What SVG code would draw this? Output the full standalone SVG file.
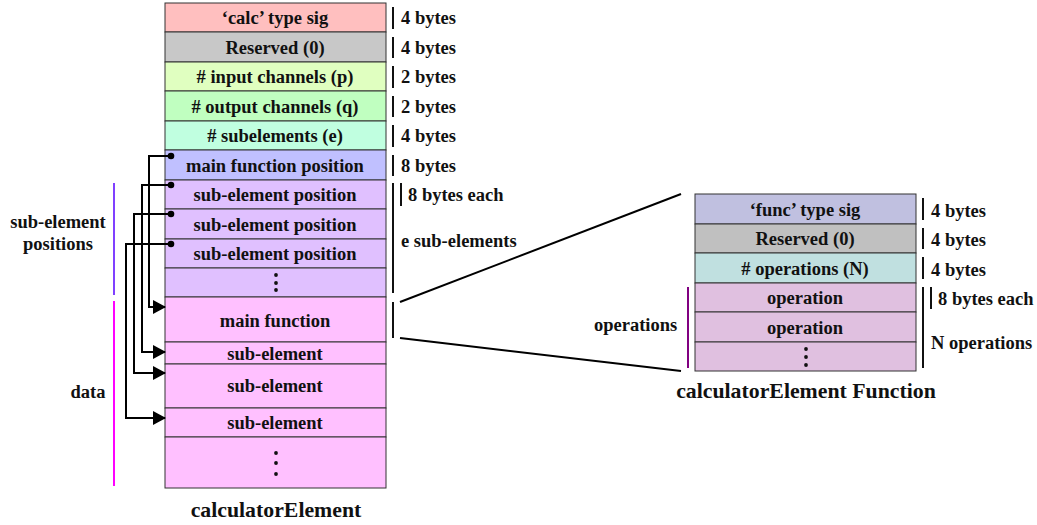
<svg xmlns="http://www.w3.org/2000/svg" width="1037" height="525" viewBox="0 0 1037 525">
<style>
text{font-family:"Liberation Serif","Times New Roman",serif;font-weight:bold;font-size:18.5px;fill:#111}
.c{text-anchor:middle}
.t{font-size:21.8px}
.cell{stroke:#333;stroke-width:1}
.bar{stroke:#111;stroke-width:2;fill:none}
.conn{stroke:#000;stroke-width:2;fill:none}
.dot{fill:#111}
</style>
<defs>
<marker id="arr" markerWidth="13" markerHeight="14" refX="12" refY="7" orient="auto" markerUnits="userSpaceOnUse">
<path d="M0,0 L13,7 L0,14 Z" fill="#000"/>
</marker>
<marker id="start" markerWidth="8" markerHeight="8" refX="4" refY="4" markerUnits="userSpaceOnUse">
<circle cx="4" cy="4" r="3.3" fill="#000"/>
</marker>
</defs>

<g id="calculatorElement">
<rect class="cell" x="165" y="3" width="221" height="29" fill="#FFBFBF"/>
<rect class="cell" x="165" y="32" width="221" height="30" fill="#C8C8C8"/>
<rect class="cell" x="165" y="62" width="221" height="29" fill="#E0FFC0"/>
<rect class="cell" x="165" y="91" width="221" height="30" fill="#C0FFC0"/>
<rect class="cell" x="165" y="121" width="221" height="29" fill="#C0FFE0"/>
<rect class="cell" x="165" y="150" width="221" height="30" fill="#C0C0FF"/>
<rect class="cell" x="165" y="180" width="221" height="29" fill="#E0C0FF"/>
<rect class="cell" x="165" y="209" width="221" height="30" fill="#E0C0FF"/>
<rect class="cell" x="165" y="239" width="221" height="29" fill="#E0C0FF"/>
<rect class="cell" x="165" y="268" width="221" height="29" fill="#E0C0FF"/>
<rect class="cell" x="165" y="297" width="221" height="45" fill="#FFC0FF"/>
<rect class="cell" x="165" y="342" width="221" height="22" fill="#FFC0FF"/>
<rect class="cell" x="165" y="364" width="221" height="44" fill="#FFC0FF"/>
<rect class="cell" x="165" y="408" width="221" height="29" fill="#FFC0FF"/>
<rect class="cell" x="165" y="437" width="221" height="51" fill="#FFC0FF"/>
<text class="c" x="275" y="24">‘calc’ type sig</text>
<text class="c" x="275" y="54">Reserved (0)</text>
<text class="c" x="275" y="83">#&#160;input channels (p)</text>
<text class="c" x="275" y="113">#&#160;output channels (q)</text>
<text class="c" x="275" y="142">#&#160;subelements (e)</text>
<text class="c" x="275" y="172">main function position</text>
<text class="c" x="275" y="201">sub-element position</text>
<text class="c" x="275" y="231">sub-element position</text>
<text class="c" x="275" y="260">sub-element position</text>
<circle class="dot" cx="276" cy="275" r="1.9"/>
<circle class="dot" cx="276" cy="283" r="1.9"/>
<circle class="dot" cx="276" cy="290" r="1.9"/>
<text class="c" x="275" y="327">main function</text>
<text class="c" x="275" y="360">sub-element</text>
<text class="c" x="275" y="392">sub-element</text>
<text class="c" x="275" y="429">sub-element</text>
<circle class="dot" cx="276" cy="453" r="1.9"/>
<circle class="dot" cx="276" cy="463" r="1.9"/>
<circle class="dot" cx="276" cy="474" r="1.9"/>
<text class="c t" x="276" y="517">calculatorElement</text>
</g>

<g id="calc-sizes">
<line class="bar" x1="393" y1="7" x2="393" y2="29"/><text x="401" y="24">4 bytes</text>
<line class="bar" x1="393" y1="37" x2="393" y2="58"/><text x="401" y="54">4 bytes</text>
<line class="bar" x1="393" y1="66" x2="393" y2="88"/><text x="401" y="83">2 bytes</text>
<line class="bar" x1="393" y1="96" x2="393" y2="117"/><text x="401" y="113">2 bytes</text>
<line class="bar" x1="393" y1="125" x2="393" y2="147"/><text x="401" y="142">4 bytes</text>
<line class="bar" x1="393" y1="155" x2="393" y2="176"/><text x="401" y="172">8 bytes</text>
<line class="bar" x1="393" y1="183" x2="393" y2="293"/>
<line class="bar" x1="401" y1="183" x2="401" y2="206"/><text x="408" y="201">8 bytes each</text>
<text x="401" y="247">e sub-elements</text>
<line class="bar" x1="393" y1="302" x2="393" y2="338"/>
</g>

<g id="left-labels">
<text class="c" x="58" y="228">sub-element</text>
<text class="c" x="58" y="250">positions</text>
<line x1="114" y1="183" x2="114" y2="295" stroke="#8040FF" stroke-width="2"/>
<text class="c" x="88" y="398">data</text>
<line x1="114" y1="301" x2="114" y2="486" stroke="#FF00FF" stroke-width="2"/>
</g>

<g id="calculatorElementFunction">
<rect class="cell" x="695" y="194" width="221" height="30" fill="#C0C0E0"/>
<rect class="cell" x="695" y="224" width="221" height="29" fill="#C0C0C0"/>
<rect class="cell" x="695" y="253" width="221" height="30" fill="#C0E0E0"/>
<rect class="cell" x="695" y="283" width="221" height="29" fill="#E0C0E0"/>
<rect class="cell" x="695" y="312" width="221" height="30" fill="#E0C0E0"/>
<rect class="cell" x="695" y="342" width="221" height="29" fill="#E0C0E0"/>
<text class="c" x="805" y="216">‘func’ type sig</text>
<text class="c" x="805" y="245">Reserved (0)</text>
<text class="c" x="805" y="275">#&#160;operations (N)</text>
<text class="c" x="805" y="304">operation</text>
<text class="c" x="805" y="334">operation</text>
<circle class="dot" cx="806" cy="349" r="1.9"/>
<circle class="dot" cx="806" cy="357" r="1.9"/>
<circle class="dot" cx="806" cy="365" r="1.9"/>
<text class="c t" x="806" y="398">calculatorElement Function</text>
<line class="bar" x1="923" y1="198" x2="923" y2="220"/><text x="931" y="217">4 bytes</text>
<line class="bar" x1="923" y1="228" x2="923" y2="249"/><text x="931" y="246">4 bytes</text>
<line class="bar" x1="923" y1="257" x2="923" y2="279"/><text x="931" y="276">4 bytes</text>
<line class="bar" x1="923" y1="287" x2="923" y2="368"/>
<line class="bar" x1="931" y1="287" x2="931" y2="309"/><text x="938" y="305">8 bytes each</text>
<text x="931" y="349">N operations</text>
<text x="594" y="331">operations</text>
<line x1="688" y1="287" x2="688" y2="368" stroke="#800080" stroke-width="2"/>
</g>

<g id="connectors">
<path class="conn" d="M171,156 H149 V307 H165" marker-start="url(#start)" marker-end="url(#arr)"/>
<path class="conn" d="M171,185 H142 V352 H165" marker-start="url(#start)" marker-end="url(#arr)"/>
<path class="conn" d="M171,214 H134 V373 H165" marker-start="url(#start)" marker-end="url(#arr)"/>
<path class="conn" d="M171,244 H126 V418 H165" marker-start="url(#start)" marker-end="url(#arr)"/>
<line class="conn" x1="400" y1="302" x2="681" y2="194"/>
<line class="conn" x1="400" y1="338" x2="681" y2="371"/>
</g>
</svg>
